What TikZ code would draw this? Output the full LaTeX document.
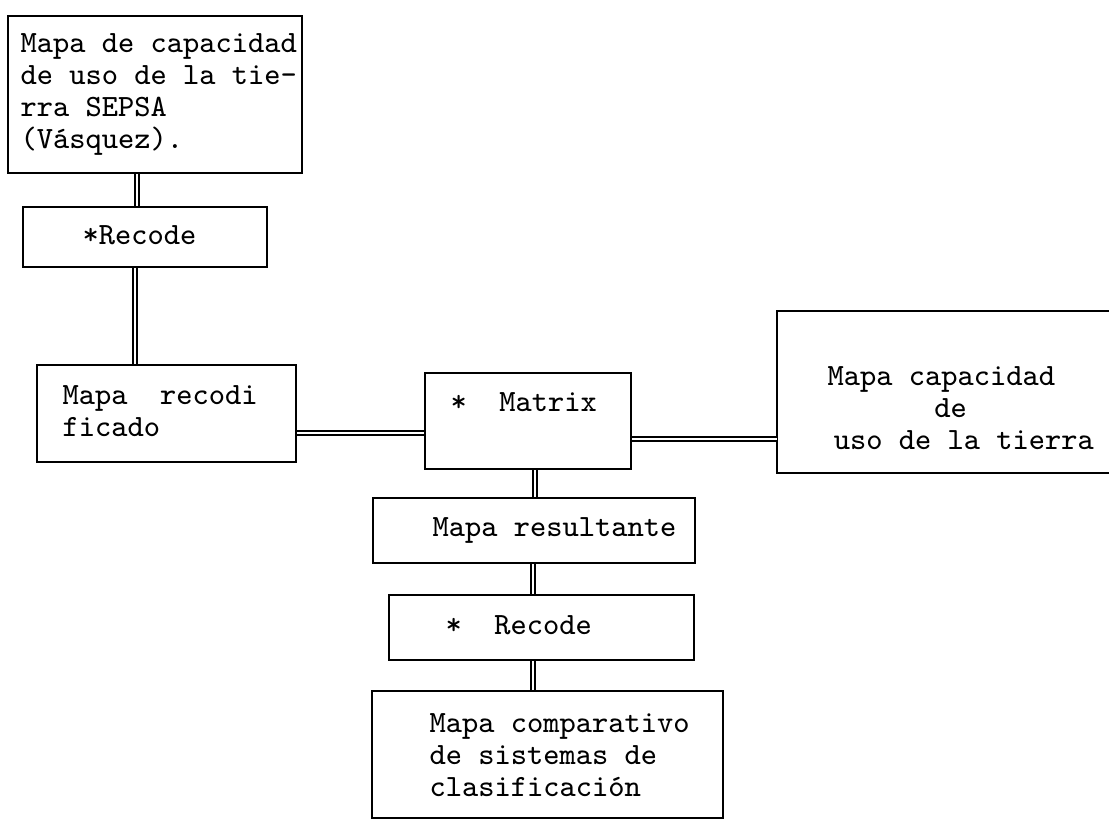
\documentclass[tikz,border=0pt]{standalone}
\usepackage{fontspec}
\usetikzlibrary{calc}

\tikzset{
  box/.style={draw,line width=0.6pt,rectangle,inner sep=0pt},
  txt/.style={anchor=base west,inner sep=0pt,align=left,font=\ttfamily\fontsize{8.8}{9.1}\selectfont},
  link/.style={double,double distance=0.6pt,line width=0.55pt}
}

\begin{document}
\begin{tikzpicture}[x=0.01cm,y=-0.01cm]
\useasboundingbox (0,0) rectangle (1109,822);
\clip (0,0) rectangle (1109,822);
\node[box,minimum width=2.94cm,minimum height=1.57cm] (mapaSepsa) at (155,94.5) {};
\node[box,minimum width=2.44cm,minimum height=0.60cm] (recodeA) at (145,237) {};
\node[box,minimum width=2.59cm,minimum height=0.97cm] (mapaRecod) at (166.5,413.5) {};
\node[box,minimum width=2.06cm,minimum height=0.96cm] (matrix) at (528,421) {};
\node[box,draw=none,minimum width=4.00cm,minimum height=1.60cm] (mapaCap) at (978,392) {};
\node[box,minimum width=3.22cm,minimum height=0.65cm] (resultante) at (534,530.5) {};
\node[box,minimum width=3.05cm,minimum height=0.65cm] (recodeB) at (541.5,627.5) {};
\node[box,minimum width=3.51cm,minimum height=1.27cm] (comparativo) at (547.5,754.5) {};
% the right side of this box runs off the page
\draw[line width=0.6pt] (mapaCap.north east) -- (mapaCap.north west) -- (mapaCap.south west) -- (mapaCap.south east);

% multi-line texts are placed by the baseline of their last line
\node[txt] (tSepsa) at (20,149) {Mapa de capacidad\\de uso de la tie-\\rra SEPSA\\(Vásquez).};
\node[txt] (tRecodeA) at (82,245) {*Recode};
\node[txt] (tRecod) at (62,437) {Mapa~~recodi\\ficado};
\node[txt] (tMatrix) at (450,412) {*~~Matrix};
\node[txt] (tCap) at (827,450) {Mapa capacidad\\\hspace*{3.45em}de\\\hspace*{0.2em}uso de la tierra};
\node[txt] (tResult) at (432,537) {Mapa resultante};
\node[txt] (tRecodeB) at (445,635) {*~~Recode};
\node[txt] (tComp) at (429,797) {Mapa comparativo\\de sistemas de\\clasificación};

\coordinate (vA) at (137,0);
\coordinate (vB) at (135,0);
\coordinate (hC) at (0,433);
\coordinate (hD) at (0,439);
\coordinate (vD) at (535,0);
\coordinate (vF) at (533,0);
\draw[link] (mapaSepsa.south -| vA) -- (recodeA.north -| vA);
\draw[link] (recodeA.south -| vB) -- (mapaRecod.north -| vB);
\draw[link] (mapaRecod.east |- hC) -- (matrix.west |- hC);
\draw[link] (matrix.east |- hD) -- (mapaCap.west |- hD);
\draw[link] (matrix.south -| vD) -- (resultante.north -| vD);
\draw[link] (resultante.south -| vF) -- (recodeB.north -| vF);
\draw[link] (recodeB.south -| vF) -- (comparativo.north -| vF);
\end{tikzpicture}
\end{document}
